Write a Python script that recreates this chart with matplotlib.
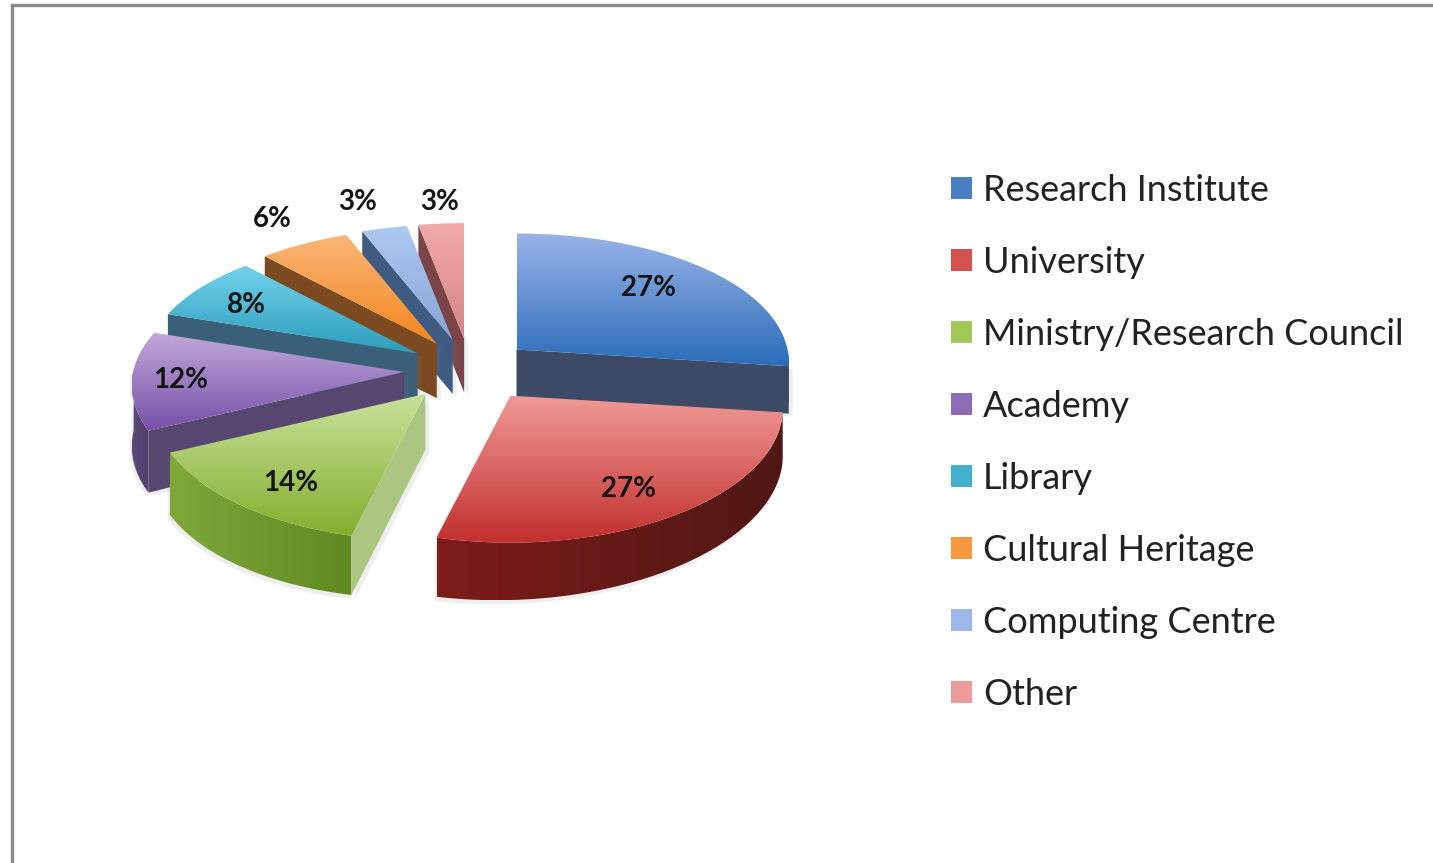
import numpy as np
import matplotlib
matplotlib.use('Agg')
import matplotlib.pyplot as plt
from matplotlib.colors import LinearSegmentedColormap
from matplotlib.patches import Patch, Polygon

categories = ['Research Institute', 'University', 'Ministry/Research Council', 'Academy',
              'Library', 'Cultural Heritage', 'Computing Centre', 'Other']
shares = [27, 27, 14, 12, 8, 6, 3, 3]

# top face gradient (light, dark), radial wall, outer rim (left, right)
top_colors = [('#9ab3e8', '#2a6db9'), ('#f09a96', '#c22f2e'), ('#c9e29a', '#84ad2e'), ('#bfa8da', '#7650a6'),
              ('#74d2ea', '#2b9dbc'), ('#fbb678', '#f4861c'), ('#aec8f0', '#86a6d8'), ('#f2aaaa', '#d58585')]
wall_colors = ['#3d4a66', '#6b1b1a', '#aac680', '#57466f', '#3a6079', '#7b4a21', '#3f5b82', '#7a4448']
rim_colors = [('#34456a', '#34456a'), ('#7d1d1b', '#4f1714'), ('#7fa83a', '#5f8a22'), ('#5d4a7c', '#4f3f6c'),
              ('#3a6079', '#3a6079'), ('#7b4a21', '#7b4a21'), ('#3f5b82', '#3f5b82'), ('#7a4448', '#7a4448')]
legend_colors = ['#4a7fc4', '#d3524f', '#a0c858', '#8c6cb4', '#42afcc', '#f7973f', '#9bb8e8', '#eb9b9b']
label_xy = [(649, 288), (628, 489), (291, 483), (181, 380), (246, 305), (272, 219), (358, 202), (440, 202)]
explode_x = [62, 72, 70, 66, 62, 62, 62, 62]

CX, CY = 470, 370
EXPLODE_Y = 31
RX = 271
PERSPECTIVE = 0.1


def rim_offset(theta):
    sx, cy = np.sin(theta), np.cos(theta)
    return RX * sx * (1 - PERSPECTIVE * cy), 131.5 * cy - 15.5 * cy ** 2


def depth_at(ox, oy):
    return 54 - 7 * (ox / RX) - 3 * (oy / 130)


def gradient_fill(ax, pts, c0, c1, zorder, horizontal=False):
    pts = np.asarray(pts)
    patch = Polygon(pts, closed=True, facecolor='none', edgecolor='none', zorder=zorder)
    ax.add_patch(patch)
    cmap = LinearSegmentedColormap.from_list('g', [c0, c1])
    ramp = np.linspace(0, 1, 128)
    grad = ramp[None, :] if horizontal else ramp[:, None]
    x0, x1, y0, y1 = pts[:, 0].min(), pts[:, 0].max(), pts[:, 1].min(), pts[:, 1].max()
    im = ax.imshow(grad, cmap=cmap, extent=(x0, x1, y1, y0), aspect='auto', zorder=zorder,
                   interpolation='bilinear', origin='upper')
    im.set_clip_path(patch)


def draw_slice(ax, i, start, end, zorder):
    mid = (start + end) / 2
    ax0 = CX + explode_x[i] * np.sin(mid)
    ay0 = CY - EXPLODE_Y * np.cos(mid)

    thetas = np.linspace(start, end, 80)
    ox, oy = rim_offset(thetas)
    rx = ax0 + ox
    ry = ay0 - oy
    top = np.vstack([[ax0, ay0], np.column_stack([rx, ry])])
    d = depth_at(ox, oy)

    # outer rim, only the part that faces the viewer
    front = np.cos(thetas) < 0.02
    if front.sum() > 1:
        upper = np.column_stack([rx[front], ry[front]])
        lower = np.column_stack([rx[front], ry[front] + d[front]])
        band = np.vstack([upper, lower[::-1]])
        # faint soft shadow under the rim
        ax.add_patch(Polygon(band + [-2, 4], closed=True, facecolor='#777777', edgecolor='none',
                             alpha=0.12, zorder=zorder - 0.1))
        gradient_fill(ax, band, rim_colors[i][0], rim_colors[i][1], zorder, horizontal=True)

    # radial walls, visible when the rest of the slice sits above the edge
    apex_d = depth_at(ax0 - CX, CY - ay0)
    for k, other in ((0, -1), (-1, 0)):
        px, py = rx[k], ry[k]
        qx, qy = rx[other], ry[other]
        if abs(px - ax0) < 1e-6:
            continue
        line_y = ay0 + (py - ay0) * (qx - ax0) / (px - ax0)
        if qy < line_y:
            wall = np.array([[ax0, ay0], [px, py], [px, py + d[k]], [ax0, ay0 + apex_d]])
            ax.add_patch(Polygon(wall + [4, 3], closed=True, facecolor='#777777', edgecolor='none',
                                 alpha=0.12, zorder=zorder - 0.1))
            ax.add_patch(Polygon(wall, closed=True, facecolor=wall_colors[i], edgecolor='none',
                                 zorder=zorder + 0.1))

    gradient_fill(ax, top, top_colors[i][0], top_colors[i][1], zorder + 0.2)


fig = plt.figure(figsize=(14.33, 8.63), dpi=100)
ax = fig.add_axes([12 / 1433, 0, 1 - 12 / 1433, 1 - 5 / 863])

edges = np.cumsum([0] + shares) / sum(shares) * 2 * np.pi
mids = (edges[:-1] + edges[1:]) / 2
for z, i in enumerate(np.argsort(-np.cos(mids))):
    draw_slice(ax, i, edges[i], edges[i + 1], 2 + z)

for s, (lx, ly) in zip(shares, label_xy):
    ax.text(lx, ly, f'{s}%', ha='center', va='center', fontsize=20, fontweight='bold',
            family='Lato', color='#141414', zorder=30)

ax.set_xlim(12, 1433)
ax.set_ylim(863, 5)
ax.set_xticks([])
ax.set_yticks([])
for side in ('right', 'bottom'):
    ax.spines[side].set_visible(False)
for side in ('left', 'top'):
    ax.spines[side].set_color('#8c8c8c')
    ax.spines[side].set_linewidth(2.4)

handles = [Patch(facecolor=c, edgecolor='none') for c in legend_colors]
ax.legend(handles, categories, loc='upper left', bbox_to_anchor=((951 - 12) / 1421, (858 - 169) / 858),
          frameon=False, prop={'family': 'Lato', 'size': 26}, labelcolor='#222222',
          handlelength=0.58, handleheight=0.58, handletextpad=0.3, labelspacing=1.08,
          borderpad=0, borderaxespad=0)

plt.savefig('out.png', dpi=100)
plt.close()
